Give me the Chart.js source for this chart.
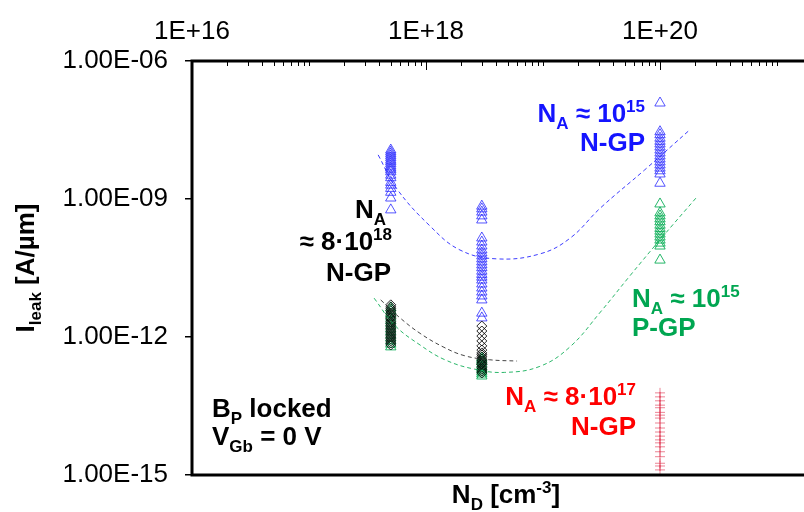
<!DOCTYPE html>
<html>
<head>
<meta charset="utf-8">
<script src="https://cdn.jsdelivr.net/npm/chart.js@4.4.1/dist/chart.umd.min.js"></script>
<style>
  html, body { margin: 0; padding: 0; background: #fff; overflow: hidden; }
  .wrap { width: 920px; height: 512px; }
</style>
</head>
<body>
<div class="wrap"><canvas id="leak"></canvas></div>
<script>
// N_D columns [cm^-3]
const ndValues = [5e17, 3e18, 1e20];

// I_leak [A/um], one list per N_D column
const nGp15 = [
    [1.16e-8, 1.05e-8, 9.5e-9, 8.6e-9, 7.8e-9, 7.0e-9, 6.4e-9, 5.8e-9, 5.2e-9, 4.7e-9,
     4.3e-9, 3.9e-9, 3.3e-9, 2.9e-9, 2.3e-9, 2.0e-9, 1.7e-9, 1.4e-9, 1.05e-9, 5.8e-10],
    [7.0e-10, 6.1e-10, 5.2e-10, 4.3e-10, 3.5e-10, 1.42e-10, 1.16e-10, 9.5e-11, 7.8e-11, 6.7e-11,
     5.8e-11, 5.0e-11, 4.3e-11, 3.7e-11, 3.2e-11, 2.7e-11, 2.3e-11, 2.0e-11, 1.73e-11, 1.42e-11,
     1.16e-11, 9.5e-12, 7.8e-12, 6.4e-12, 3.3e-12, 2.6e-12],
    [1.22e-7, 2.9e-8, 2.5e-8, 2.1e-8, 1.8e-8, 1.57e-8, 1.35e-8, 1.16e-8, 1.0e-8, 8.6e-9,
     7.4e-9, 6.4e-9, 5.5e-9, 4.7e-9, 4.1e-9, 3.5e-9, 2.2e-9]
];
const pGp15 = [
    [4.3e-12, 3.7e-12, 3.2e-12, 2.7e-12, 2.3e-12, 2.0e-12, 1.73e-12, 1.49e-12, 1.29e-12, 1.10e-12,
     9.5e-13, 8.2e-13, 7.0e-13, 6.1e-13],
    [3.5e-13, 3.2e-13, 2.9e-13, 2.6e-13, 2.3e-13, 2.1e-13, 1.92e-13, 1.73e-13, 1.57e-13, 1.42e-13],
    [7.8e-10, 5.0e-10, 4.3e-10, 3.7e-10, 3.2e-10, 2.7e-10, 2.3e-10, 2.0e-10, 1.73e-10, 1.49e-10,
     1.28e-10, 1.10e-10, 9.5e-11, 4.7e-11]
];
const nGp8e18 = [
    [5.0e-12, 4.5e-12, 4.1e-12, 3.7e-12, 3.3e-12, 3.0e-12, 2.7e-12, 2.5e-12, 2.2e-12, 2.0e-12,
     1.82e-12, 1.65e-12, 1.49e-12, 1.35e-12, 1.22e-12, 1.10e-12, 1.0e-12, 9.1e-13, 8.2e-13, 7.4e-13,
     6.7e-13],
    [1.73e-12, 1.35e-12, 1.05e-12, 8.2e-13, 6.4e-13, 5.2e-13, 4.5e-13, 4.1e-13, 3.7e-13, 3.3e-13,
     3.0e-13, 2.7e-13, 2.5e-13, 2.2e-13, 2.0e-13, 1.82e-13, 1.65e-13],
    []
];
const nGp8e17 = [
    [],
    [],
    [6.1e-14, 5.0e-14, 4.1e-14, 3.3e-14, 2.9e-14, 2.3e-14, 2.0e-14, 1.73e-14, 1.35e-14, 1.05e-14,
     8.6e-15, 7.0e-15, 5.8e-15, 5.0e-15, 4.1e-15, 3.2e-15, 2.5e-15, 1.8e-15, 1.57e-15, 1.29e-15]
];

// trend lines
const blueFitX = [3.9e17, 5.6e17, 1.08e18, 1.95e18, 4.0e18, 9.4e18, 1.7e19, 3.1e19, 7.4e19, 1.8e20];
const blueFitY = [9.1e-9, 1.7e-9, 2.6e-10, 7.8e-11, 5.0e-11, 6.4e-11, 1.4e-10, 6.4e-10, 4.3e-9, 3.2e-8];
const greenFitX = [3.6e17, 5.4e17, 8.9e17, 1.45e18, 2.6e18, 4.7e18, 9.4e18, 1.7e19, 3.1e19, 5.5e19, 1.0e20, 2.1e20];
const greenFitY = [7.0e-12, 1.8e-12, 6.7e-13, 3.2e-13, 2.0e-13, 1.7e-13, 2.3e-13, 6.1e-13, 3.5e-12, 2.1e-11, 1.3e-10, 1.16e-9];
const blackFitX = [4.1e17, 6.0e17, 8.9e17, 1.4e18, 2.15e18, 3.5e18, 6.0e18];
const blackFitY = [6.4e-12, 2.6e-12, 1.2e-12, 6.1e-13, 3.9e-13, 3.2e-13, 3.0e-13];

// axis ticks
const xTickValues = [1e16, 1e18, 1e20, 1e22];
const xTickLabels = ['1E+16', '1E+18', '1E+20', ''];
const yTickValues = [1e-15, 1e-12, 1e-9, 1e-6];
const yTickLabels = ['1.00E-15', '1.00E-12', '1.00E-09', '1.00E-06'];

const FONT = "'Liberation Sans', Arial, sans-serif";
const BIG = 'bold 26px ' + FONT;
const SMALL = 'bold 17px ' + FONT;

// text boxes: parts are [text, 'sub'|'sup'|undefined]
const notes = [
    { x: 645, y: 122, align: 'right', color: '#1414ff', parts: [['N'], ['A', 'sub'], [' ≈ 10'], ['15', 'sup']] },
    { x: 645, y: 151, align: 'right', color: '#1414ff', parts: [['N-GP']] },
    { x: 386, y: 218, align: 'right', color: '#000', parts: [['N'], ['A', 'sub']] },
    { x: 392, y: 250, align: 'right', color: '#000', parts: [['≈ 8·10'], ['18', 'sup']] },
    { x: 391, y: 281, align: 'right', color: '#000', parts: [['N-GP']] },
    { x: 632, y: 307, align: 'left', color: '#00a651', parts: [['N'], ['A', 'sub'], [' ≈ 10'], ['15', 'sup']] },
    { x: 632, y: 336, align: 'left', color: '#00a651', parts: [['P-GP']] },
    { x: 636, y: 405, align: 'right', color: '#ff0000', parts: [['N'], ['A', 'sub'], [' ≈ 8·10'], ['17', 'sup']] },
    { x: 636, y: 435, align: 'right', color: '#ff0000', parts: [['N-GP']] },
    { x: 212, y: 417, align: 'left', color: '#000', parts: [['B'], ['P', 'sub'], [' locked']] },
    { x: 212, y: 445, align: 'left', color: '#000', parts: [['V'], ['Gb', 'sub'], [' = 0 V']] }
];

function toPoints(cols) {
    return cols.flatMap(function(col, i) {
        return col.map(function(v) { return { x: ndValues[i], y: v }; });
    });
}
function zipXY(xs, ys) {
    return xs.map(function(x, i) { return { x: x, y: ys[i] }; });
}

function richWidth(ctx, parts) {
    var w = 0;
    parts.forEach(function(p) {
        ctx.font = p[1] ? SMALL : BIG;
        w += ctx.measureText(p[0]).width;
    });
    return w;
}
function drawRich(ctx, parts, x, y, align, color) {
    var cx = align === 'right' ? x - richWidth(ctx, parts)
           : align === 'center' ? x - richWidth(ctx, parts) / 2 : x;
    ctx.fillStyle = color;
    ctx.textAlign = 'left';
    ctx.textBaseline = 'alphabetic';
    parts.forEach(function(p) {
        ctx.font = p[1] ? SMALL : BIG;
        var dy = p[1] === 'sub' ? 7 : p[1] === 'sup' ? -10 : 0;
        ctx.fillText(p[0], cx, y + dy);
        cx += ctx.measureText(p[0]).width;
    });
}

const decorPlugin = {
    id: 'decor',
    afterDraw: function(chart) {
        const ctx = chart.ctx;
        const a = chart.chartArea;
        const xs = chart.scales.x;
        ctx.save();
        // frame
        ctx.strokeStyle = '#000';
        ctx.lineWidth = 3;
        ctx.strokeRect(a.left, a.top, a.right - a.left, a.bottom - a.top);
        // inward tick marks along the top
        ctx.lineWidth = 1;
        for (let e = 16; e < 22; e++) {
            for (let k = 1; k <= 9; k++) {
                const px = Math.round(xs.getPixelForValue(k * Math.pow(10, e))) + 0.5;
                const len = (k === 1 && e % 2 === 0) ? 9 : 5;
                ctx.beginPath();
                ctx.moveTo(px, a.top);
                ctx.lineTo(px, a.top + len);
                ctx.stroke();
            }
        }
        // notes
        notes.forEach(function(n) { drawRich(ctx, n.parts, n.x, n.y, n.align, n.color); });
        // axis titles
        drawRich(ctx, [['N'], ['D', 'sub'], [' [cm'], ['-3', 'sup'], [']']], 506, 503, 'center', '#000');
        ctx.translate(34, (a.top + a.bottom) / 2);
        ctx.rotate(-Math.PI / 2);
        drawRich(ctx, [['I'], ['leak', 'sub'], [' [A/µm]']], 0, 0, 'center', '#000');
        ctx.restore();
    }
};

const ctx = document.getElementById('leak').getContext('2d');
const chart = new Chart(ctx, {
    type: 'scatter',
    data: {
        datasets: [{
            label: 'fit 8e18',
            data: zipXY(blackFitX, blackFitY),
            showLine: true,
            pointRadius: 0,
            borderColor: 'rgba(50,50,50,0.9)',
            borderWidth: 1,
            borderDash: [4, 3],
            tension: 0.4
        }, {
            label: 'fit N 1e15',
            data: zipXY(blueFitX, blueFitY),
            showLine: true,
            pointRadius: 0,
            borderColor: 'rgba(40,40,255,0.9)',
            borderWidth: 1,
            borderDash: [4, 3],
            tension: 0.4
        }, {
            label: 'fit P 1e15',
            data: zipXY(greenFitX, greenFitY),
            showLine: true,
            pointRadius: 0,
            borderColor: 'rgba(20,175,90,0.9)',
            borderWidth: 1,
            borderDash: [4, 3],
            tension: 0.4
        }, {
            label: 'N-GP 8e18',
            data: toPoints(nGp8e18),
            pointStyle: 'rectRot',
            pointRadius: 5,
            borderColor: 'rgba(0,0,0,0.85)',
            backgroundColor: 'rgba(0,0,0,0)',
            borderWidth: 1
        }, {
            label: 'P-GP 1e15',
            data: toPoints(pGp15),
            pointStyle: 'triangle',
            pointRadius: 6,
            borderColor: 'rgba(0,170,80,0.85)',
            backgroundColor: 'rgba(0,0,0,0)',
            borderWidth: 1
        }, {
            label: 'N-GP 1e15',
            data: toPoints(nGp15),
            pointStyle: 'triangle',
            pointRadius: 6,
            borderColor: 'rgba(30,30,255,0.75)',
            backgroundColor: 'rgba(0,0,0,0)',
            borderWidth: 1
        }, {
            label: 'N-GP 8e17',
            data: toPoints(nGp8e17),
            pointStyle: 'cross',
            pointRadius: 5,
            borderColor: 'rgba(220,30,60,0.55)',
            borderWidth: 1
        }]
    },
    options: {
        responsive: true,
        maintainAspectRatio: false,
        devicePixelRatio: 1,
        animation: false,
        layout: { padding: { left: 0, right: 26, top: 0, bottom: 37 } },
        plugins: {
            legend: { display: false },
            tooltip: { enabled: false }
        },
        scales: {
            x: {
                type: 'logarithmic',
                position: 'top',
                min: 1e16,
                max: 1e22,
                afterBuildTicks: function(s) { s.ticks = xTickValues.map(function(v) { return { value: v }; }); },
                afterFit: function(s) { s.height = 61; s.paddingLeft = 0; s.paddingRight = 0; },
                grid: { display: true, drawOnChartArea: false, drawTicks: false, color: 'rgba(0,0,0,0)' },
                border: { display: false },
                ticks: {
                    autoSkip: false,
                    maxRotation: 0,
                    padding: 14,
                    color: '#000',
                    font: { family: FONT, size: 26 },
                    callback: function(v, i) { return xTickLabels[i]; }
                }
            },
            y: {
                type: 'logarithmic',
                min: 1e-15,
                max: 1e-6,
                afterBuildTicks: function(s) { s.ticks = yTickValues.map(function(v) { return { value: v }; }); },
                afterFit: function(s) { s.width = 192; },
                grid: { display: true, drawOnChartArea: false, drawTicks: true, tickLength: 7, color: '#000', lineWidth: 1.5 },
                border: { display: false },
                ticks: {
                    autoSkip: false,
                    padding: 17,
                    color: '#000',
                    font: { family: FONT, size: 26 },
                    callback: function(v, i) { return yTickLabels[i]; }
                }
            }
        }
    },
    plugins: [decorPlugin]
});
</script>
</body>
</html>
